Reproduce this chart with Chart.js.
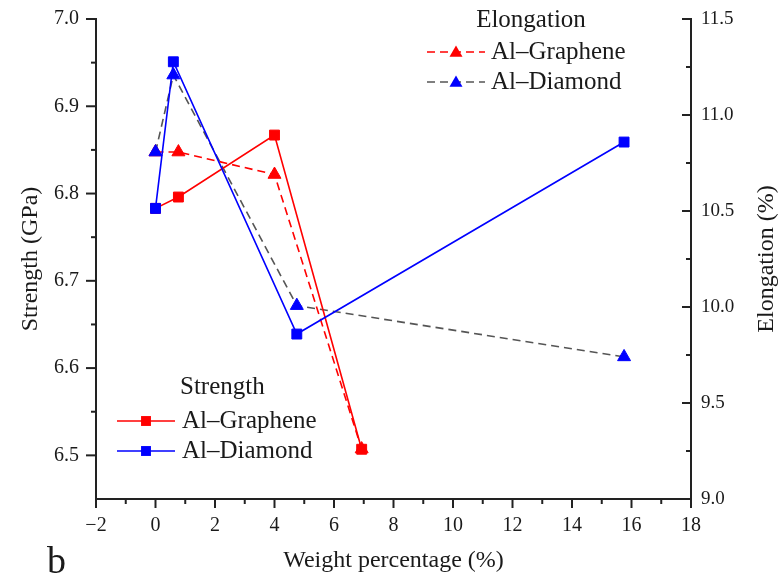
<!DOCTYPE html>
<html><head><meta charset="utf-8">
<script src="https://cdn.jsdelivr.net/npm/chart.js@4/dist/chart.umd.min.js"></script>
<style>html,body{margin:0;padding:0;background:#fff;}#wrap{width:781px;height:581px;position:relative;}</style>
</head><body><div id="wrap"><canvas id="c" width="781" height="581"></canvas></div>
<script>
// ---- data ----
const grapheneWt = [0, 0.77, 4.0, 6.93];
const diamondWt = [0, 0.6, 4.75, 15.75];
const strengthGraphene = [6.783, 6.796, 6.867, 6.507];
const strengthDiamond = [6.783, 6.951, 6.639, 6.859];
const elongationGraphene = [10.807, 10.807, 10.69, 9.26];
const elongationDiamond = [10.807, 11.208, 10.007, 9.74];
const xTicks = [-2, 0, 2, 4, 6, 8, 10, 12, 14, 16, 18];
const strengthTicks = [6.5, 6.6, 6.7, 6.8, 6.9, 7.0];
const elongationTicks = [9.0, 9.5, 10.0, 10.5, 11.0, 11.5];
const seriesNames = ['Al\u2013Graphene', 'Al\u2013Diamond'];
const groupTitles = ['Strength', 'Elongation'];
const axisTitles = ['Weight percentage (%)', 'Strength (GPa)', 'Elongation (%)'];
const panelLabel = 'b';

const FONT = '"Liberation Serif", "Times New Roman", serif';
const TXT = '#1a1a1a';
const RED = '#ff0000', BLUE = '#0000ff', GRAY = '#555555';

const pts = (xs, ys) => xs.map((x, i) => ({x: x, y: ys[i]}));

const datasets = [
  {label: seriesNames[0], group: 0, data: pts(grapheneWt, strengthGraphene), yAxisID: 'y',
   borderColor: RED, backgroundColor: RED, pointStyle: 'rect', pointRadius: 7, borderWidth: 1.6, order: 1},
  {label: seriesNames[1], group: 0, data: pts(diamondWt, strengthDiamond), yAxisID: 'y',
   borderColor: BLUE, backgroundColor: BLUE, pointStyle: 'rect', pointRadius: 7, borderWidth: 1.6, order: 0},
  {label: seriesNames[0], group: 1, data: pts(grapheneWt, elongationGraphene), yAxisID: 'y2',
   borderColor: RED, backgroundColor: RED, pointBorderColor: RED, pointStyle: 'triangle', pointRadius: 7.5, borderWidth: 1.6, borderDash: [8, 5], order: 3},
  {label: seriesNames[1], group: 1, data: pts(diamondWt, elongationDiamond), yAxisID: 'y2',
   borderColor: GRAY, backgroundColor: BLUE, pointBorderColor: BLUE, pointStyle: 'triangle', pointRadius: 7.5, borderWidth: 1.6, borderDash: [8, 5], order: 2}
];
datasets.forEach(d => { d.showLine = true; d.tension = 0; d.pointBorderWidth = 1; if (!d.pointBorderColor) d.pointBorderColor = d.backgroundColor; d.pointHoverRadius = d.pointRadius; });

function drawMarker(ctx, style, r, x, y, color) {
  ctx.save();
  ctx.fillStyle = color;
  ctx.beginPath();
  if (style === 'rect') {
    const s = Math.SQRT1_2 * r;
    ctx.rect(x - s, y - s, 2 * s, 2 * s);
  } else {
    const h = Math.PI * 2 / 3;
    let a = 0;
    ctx.moveTo(x + Math.sin(a) * r, y - Math.cos(a) * r); a += h;
    ctx.lineTo(x + Math.sin(a) * r, y - Math.cos(a) * r); a += h;
    ctx.lineTo(x + Math.sin(a) * r, y - Math.cos(a) * r);
    ctx.closePath();
  }
  ctx.fill();
  ctx.restore();
}

const decor = {
  id: 'decor',
  afterDraw(chart) {
    const ctx = chart.ctx;
    const {x, y, y2} = chart.scales;
    const ca = chart.chartArea;
    ctx.save();
    ctx.strokeStyle = '#222';
    ctx.lineWidth = 2;
    const mids = arr => arr.slice(0, -1).map((v, i) => (v + arr[i + 1]) / 2);
    // x ticks (outward, down)
    xTicks.forEach(v => { const p = x.getPixelForValue(v); ctx.beginPath(); ctx.moveTo(p, ca.bottom); ctx.lineTo(p, ca.bottom + 9); ctx.stroke(); });
    mids(xTicks).forEach(v => { const p = x.getPixelForValue(v); ctx.beginPath(); ctx.moveTo(p, ca.bottom); ctx.lineTo(p, ca.bottom + 5); ctx.stroke(); });
    // left ticks (outward)
    strengthTicks.forEach(v => { const p = y.getPixelForValue(v); ctx.beginPath(); ctx.moveTo(ca.left - 10, p); ctx.lineTo(ca.left, p); ctx.stroke(); });
    mids(strengthTicks).forEach(v => { const p = y.getPixelForValue(v); ctx.beginPath(); ctx.moveTo(ca.left - 5, p); ctx.lineTo(ca.left, p); ctx.stroke(); });
    // right ticks (inward)
    elongationTicks.forEach(v => { const p = y2.getPixelForValue(v); ctx.beginPath(); ctx.moveTo(ca.right - 9, p); ctx.lineTo(ca.right, p); ctx.stroke(); });
    mids(elongationTicks).forEach(v => { const p = y2.getPixelForValue(v); ctx.beginPath(); ctx.moveTo(ca.right - 5, p); ctx.lineTo(ca.right, p); ctx.stroke(); });

    // right axis title (reads bottom to top)
    ctx.fillStyle = TXT;
    ctx.font = '24px ' + FONT;
    ctx.textAlign = 'center';
    ctx.textBaseline = 'middle';
    ctx.save();
    ctx.translate(767, (ca.top + ca.bottom) / 2);
    ctx.rotate(-Math.PI / 2);
    ctx.fillText(axisTitles[2], 0, 0);
    ctx.restore();

    // panel label
    ctx.font = '38px ' + FONT;
    ctx.textAlign = 'left';
    ctx.textBaseline = 'alphabetic';
    ctx.fillText(panelLabel, 47, 573);

    // legends
    const groups = [
      {title: groupTitles[0], tx: 180, tAlign: 'left', ty: 387, rows: [421, 451], l0: 117, l1: 175, m: 146, text: 182},
      {title: groupTitles[1], tx: 531, tAlign: 'center', ty: 20, rows: [52, 82], l0: 427, l1: 485, m: 456, text: 491}
    ];
    groups.forEach((g, gi) => {
      ctx.font = '25px ' + FONT;
      ctx.fillStyle = TXT;
      ctx.textAlign = g.tAlign;
      ctx.textBaseline = 'middle';
      ctx.fillText(g.title, g.tx, g.ty);
      const ds = chart.data.datasets.filter(d => d.group === gi);
      ds.forEach((d, i) => {
        const ry = g.rows[i];
        ctx.save();
        ctx.strokeStyle = d.borderColor;
        ctx.lineWidth = d.borderWidth;
        ctx.setLineDash(d.borderDash || []);
        ctx.beginPath(); ctx.moveTo(g.l0, ry); ctx.lineTo(g.l1, ry); ctx.stroke();
        ctx.restore();
        drawMarker(ctx, d.pointStyle, d.pointRadius, g.m, ry + (d.pointStyle === 'triangle' ? 1 : 0), d.backgroundColor);
        ctx.fillStyle = TXT;
        ctx.textAlign = 'left';
        ctx.fillText(d.label, g.text, ry);
      });
    });
    ctx.restore();
  }
};

const tickFont = {family: FONT, size: 20};
new Chart(document.getElementById('c'), {
  type: 'scatter',
  data: {datasets: datasets},
  options: {
    responsive: false,
    devicePixelRatio: 1,
    animation: false,
    layout: {padding: {top: 19, left: 0, right: 0, bottom: 0}},
    plugins: {legend: {display: false}, tooltip: {enabled: false}},
    scales: {
      x: {
        type: 'linear', position: 'bottom', min: -2, max: 18,
        afterBuildTicks: s => { s.ticks = xTicks.map(v => ({value: v})); },
        afterFit: s => { s.height = 82; },
        grid: {display: false, drawTicks: false},
        border: {display: true, color: '#222', width: 2},
        ticks: {font: tickFont, color: TXT, padding: 15, maxRotation: 0, autoSkip: false,
                callback: v => (v < 0 ? '\u2212' + Math.abs(v) : String(v))},
        title: {display: true, text: axisTitles[0], color: TXT, font: {family: FONT, size: 24}, padding: {top: 0, bottom: 6}}
      },
      y: {
        type: 'linear', position: 'left', min: 6.45, max: 7.0,
        afterBuildTicks: s => { s.ticks = strengthTicks.map(v => ({value: v})); },
        afterFit: s => { s.width = 96; },
        grid: {display: false, drawTicks: true, tickLength: 10},
        border: {display: true, color: '#222', width: 2},
        ticks: {font: tickFont, color: TXT, padding: 7, callback: v => v.toFixed(1)},
        title: {display: true, text: axisTitles[1], color: TXT, font: {family: FONT, size: 24}, padding: {top: 16, bottom: 0}}
      },
      y2: {
        type: 'linear', position: 'right', min: 9.0, max: 11.5,
        afterBuildTicks: s => { s.ticks = elongationTicks.map(v => ({value: v})); },
        afterFit: s => { s.width = 90; },
        grid: {display: false, drawTicks: true, tickLength: 10},
        border: {display: true, color: '#222', width: 2},
        ticks: {font: {family: FONT, size: 19}, color: TXT, padding: 0, callback: v => v.toFixed(1)},
        title: {display: false}
      }
    }
  },
  plugins: [decor]
});
</script>
</body></html>
